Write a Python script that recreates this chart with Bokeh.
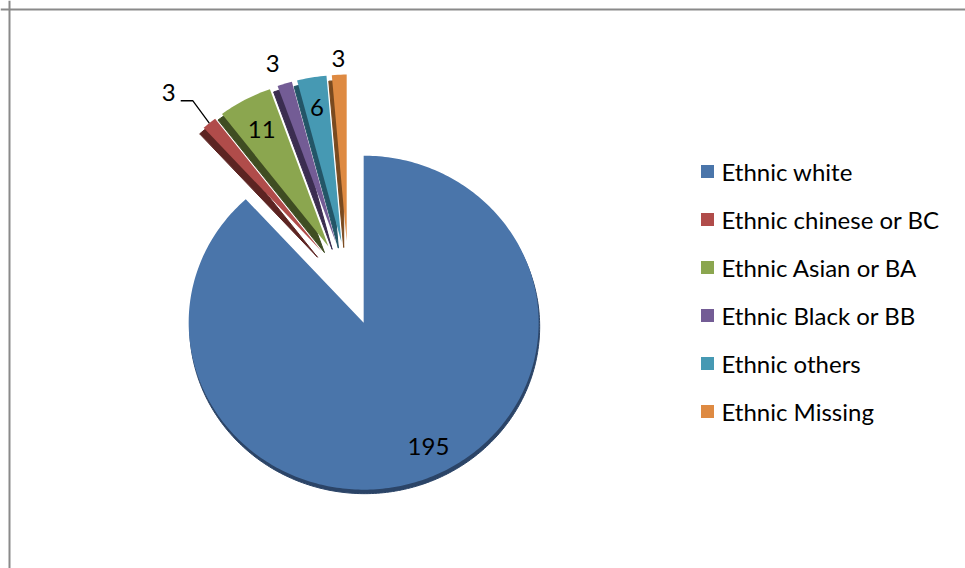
import numpy as np
from bokeh.plotting import figure
from bokeh.models import Range1d, Span
from bokeh.core.properties import value
from bokeh.embed import file_html
from bokeh.resources import INLINE

# ---- data ----
categories = ["Ethnic white", "Ethnic chinese or BC", "Ethnic Asian or BA",
              "Ethnic Black or BB", "Ethnic others", "Ethnic Missing"]
counts = [195, 3, 11, 3, 6, 3]

# ---- styles ----
face_colors = ["#4a75aa", "#b04c4a", "#8ba64f", "#735c95", "#4699b3", "#de8a42"]
side_colors = ["#2b4467", "#5c2422", "#3f4d22", "#3b2d50", "#235567", "#7a4a1f"]
FONT = "Lato"

# layout (pixel space)
CX, CY = 348.0, 283.0
RX, RY = 175.0, 167.0
EXPLODE = 42.0
label_f = [0.83, 1.29, 0.80, 1.135, 0.82, 1.10]
label_dtheta = [-5.3, -2.7, 0.0, -1.5, 0.0, 0.0]
side_shift = [(1, 4), (-4, 6), (-4, 6), (-4, 6), (-3, 6), (-3, 6)]

total = float(sum(counts))
cum = np.concatenate([[0.0], np.cumsum(counts)])
a0 = cum[:-1] / total * 2 * np.pi
a1 = cum[1:] / total * 2 * np.pi
mid = (a0 + a1) / 2

tips_x = CX + EXPLODE * np.sin(mid)
tips_y = CY - EXPLODE * np.cos(mid)

def slice_poly(i, dx=0.0, dy=0.0):
    n = max(4, int(np.degrees(a1[i] - a0[i])) + 2)
    ang = np.linspace(a0[i], a1[i], n)
    xs = [tips_x[i]] + list(tips_x[i] + RX * np.sin(ang)) + [tips_x[i]]
    ys = [tips_y[i]] + list(tips_y[i] - RY * np.cos(ang)) + [tips_y[i]]
    return [x + dx for x in xs], [y + dy for y in ys]

W, H = 965, 568
p = figure(width=W, height=H, x_range=Range1d(0, W), y_range=Range1d(H, 0),
           output_backend="svg", toolbar_location=None, min_border=0)
p.axis.visible = False
p.grid.visible = False
p.outline_line_color = None
p.background_fill_color = "white"

# border (left and top visible in frame)
p.add_layout(Span(location=9, dimension="height", line_color="#8a8a8a", line_width=2))
p.add_layout(Span(location=9, dimension="width", line_color="#8a8a8a", line_width=2))

# sides (3D depth)
sx, sy = [], []
for i in range(len(counts)):
    xs, ys = slice_poly(i, *side_shift[i])
    sx.append(xs); sy.append(ys)
p.patches(sx, sy, fill_color=side_colors, line_color=side_colors, line_width=1)

# faces
fx, fy = [], []
for i in range(len(counts)):
    xs, ys = slice_poly(i)
    fx.append(xs); fy.append(ys)
p.patches(fx, fy, fill_color=face_colors, line_color=None)

# data labels
lx, ly = [], []
for i in range(len(counts)):
    a = mid[i] + np.radians(label_dtheta[i])
    lx.append(tips_x[i] + RX * label_f[i] * np.sin(a))
    ly.append(tips_y[i] - RY * label_f[i] * np.cos(a))
p.text(lx, ly, text=[str(c) for c in counts], text_font=value(FONT),
       text_font_size="24px", text_align="center", text_baseline="middle",
       text_color="black")

# leader line for the small red slice label
i = 1
ox = tips_x[i] + RX * np.sin(mid[i])
oy = tips_y[i] - RY * np.cos(mid[i])
p.line([lx[i] + 12, lx[i] + 24, ox], [ly[i] + 8, ly[i] + 8, oy],
       line_color="black", line_width=1.3)

# legend
leg_x = 707
leg_y = [171 + 48 * k for k in range(len(categories))]
p.rect([leg_x] * len(categories), leg_y, width=13, height=13,
       width_units="screen", height_units="screen",
       fill_color=face_colors, line_color=None)
p.text([721] * len(categories), leg_y, text=categories, text_font=value(FONT),
       text_font_size="24px", text_align="left", text_baseline="middle",
       text_color="black")

open("out.html", "w").write(file_html(p, INLINE))
